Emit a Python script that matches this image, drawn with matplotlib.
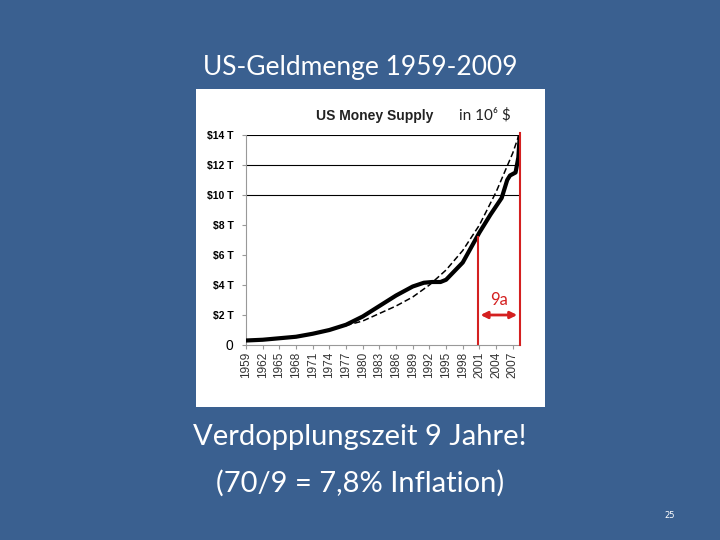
import matplotlib
matplotlib.use("Agg")
import matplotlib.pyplot as plt
from matplotlib.patches import Rectangle

# Geldmenge in Billionen $ (T)
years = [1959, 1962, 1965, 1968, 1971, 1974, 1977, 1980, 1983, 1986, 1989, 1991, 1992.5,
         1994, 1995, 1998, 2001, 2003, 2005, 2006, 2006.5, 2007.5, 2008, 2008.3]
supply = [0.3, 0.35, 0.45, 0.55, 0.75, 1.0, 1.35, 1.9, 2.6, 3.3, 3.9, 4.15, 4.2,
          4.2, 4.35, 5.5, 7.5, 8.7, 9.8, 11.0, 11.3, 11.5, 12.5, 14.2]
trend_years = [1959, 1965, 1971, 1977, 1980, 1983, 1986, 1989, 1992, 1995, 1998, 2001, 2004, 2007, 2008.3]
trend = [0.3, 0.45, 0.75, 1.3, 1.6, 2.1, 2.6, 3.2, 4.0, 5.0, 6.3, 8.0, 10.2, 12.8, 14.2]
xtick_years = list(range(1959, 2008, 3))
ytick_vals = [2, 4, 6, 8, 10, 12, 14]
ytick_labels = ['$2 T', '$4 T', '$6 T', '$8 T', '$10 T', '$12 T', '$14 T']
grid_vals = [10, 12, 14]
span_start, span_end = 2000.7, 2008.3

bg = '#3a6090'
slide_font = ['Lato', 'DejaVu Sans']
fig = plt.figure(figsize=(7.2, 5.4), dpi=100, facecolor=bg)
fig.patches.append(Rectangle((196/720, 1-407/540), 349/720, 318/540, zorder=-5,
                             transform=fig.transFigure, facecolor='white', edgecolor='none'))

fig.text(0.5, 1-68/540, 'US-Geldmenge 1959-2009', color='white', fontsize=19,
         ha='center', va='center', family=slide_font)
fig.text(0.5, 1-437/540, 'Verdopplungszeit 9 Jahre!', color='white', fontsize=21,
         ha='center', va='center', family=slide_font)
fig.text(0.5, 1-483/540, '(70/9 = 7,8% Inflation)', color='white', fontsize=21,
         ha='center', va='center', family=slide_font)
fig.text(670/720, 1-515/540, '25', color='white', fontsize=6, ha='center', va='center')

ax = fig.add_axes([246/720, 1-345/540, 274/720, 210/540])
ax.set_facecolor('white')
ax.set_xlim(1959, 2008.3)
ax.set_ylim(0, 14)
for g in grid_vals:
    ax.axhline(g, color='black', lw=0.8, zorder=1)
ax.plot(trend_years, trend, color='black', lw=1.1, ls=(0, (4, 2)), zorder=2)
ax.plot(years, supply, color='black', lw=3, zorder=3)

ax.axvline(span_start, ymax=7.2/14, color='#d42020', lw=1.5, zorder=4)
ax.axvline(span_end, ymax=1.01, color='#d42020', lw=1.5, zorder=4, clip_on=False)
ax.annotate('', xy=(span_end, 2.0), xytext=(span_start, 2.0),
            arrowprops=dict(arrowstyle='<|-|>', color='#d42020', lw=2, mutation_scale=10))
ax.text((span_start + span_end) / 2, 3.0, '9a', color='#d42020', fontsize=12,
        ha='center', va='center', family=slide_font)

ax.set_xticks(xtick_years)
ax.set_xticklabels([str(y) for y in xtick_years], rotation=90, fontsize=8.5,
                   family='Liberation Sans', color='#333333')
ax.set_yticks([0] + ytick_vals)
ax.set_yticklabels(['0'] + ytick_labels, fontsize=7.5, fontweight='bold', family='Liberation Sans')
ax.get_yticklabels()[0].set_fontweight('normal')
ax.get_yticklabels()[0].set_fontsize(10)
ax.tick_params(axis='y', length=3, color='#999999', pad=6)
ax.tick_params(axis='x', length=3, color='#999999', pad=2)
for s in ['top', 'right']:
    ax.spines[s].set_visible(False)
ax.spines['left'].set_color('#999999')
ax.spines['bottom'].set_color('#999999')

fig.text(375/720, 1-116/540, 'US Money Supply', fontsize=10, fontweight='bold',
         ha='center', va='center', family='Liberation Sans', color='#222222')
fig.text(485/720, 1-115/540, 'in 10\u2076 $', fontsize=11, ha='center', va='center',
         family=slide_font, color='#222222')

fig.savefig('out.png', dpi=100, facecolor=bg)
